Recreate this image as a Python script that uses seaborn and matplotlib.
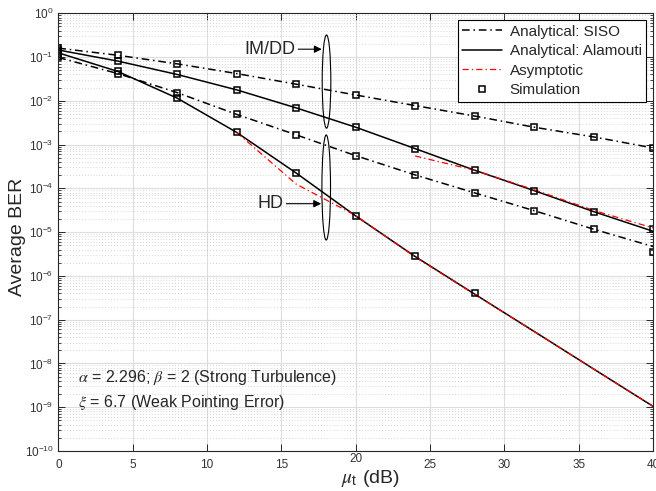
import matplotlib
matplotlib.use("Agg")
import matplotlib.pyplot as plt
import matplotlib.patches as mpatches
from matplotlib.lines import Line2D
from matplotlib.ticker import LogLocator, NullFormatter, FixedLocator
from matplotlib.transforms import ScaledTranslation
import numpy as np
import seaborn as sns

# ─── Data ──────────────────────────────────────────────────────────────────
snr_db = [0, 4, 8, 12, 16, 20, 24, 28, 32, 36, 40]

imdd_siso = [0.16, 0.11, 0.07, 0.042, 0.024, 0.0136, 0.0078, 0.0045, 0.0025, 0.0015, 0.00084]
imdd_alam = [0.145, 0.081, 0.04, 0.0178, 0.0069, 0.0025, 8.1e-4, 2.6e-4, 8.9e-5, 2.95e-5, 1.05e-5]
hd_siso = [0.098, 0.042, 0.0154, 0.0049, 0.00167, 5.6e-4, 2.03e-4, 7.9e-5, 3.1e-5, 1.17e-5, 4.7e-6]
hd_alam = [0.125, 0.047, 0.0115, 0.0019, 2.24e-4, 2.35e-5, 2.78e-6, 3.85e-7, 5.4e-8, 7.5e-9, 1.05e-9]

asym_imdd_x = [24, 28, 32, 36, 40]
asym_imdd = [5.5e-4, 2.6e-4, 9.3e-5, 3.15e-5, 1.25e-5]
asym_hd_x = [12, 16, 20, 24, 28, 32, 36, 40]
asym_hd = [1.9e-3, 1.25e-4, 2.4e-5, 2.7e-6, 3.8e-7, 5.4e-8, 7.5e-9, 1.05e-9]

sim_x = [0, 4, 8, 12, 16, 20, 24, 28, 32, 36, 40]
sim_imdd_siso = [0.16, 0.11, 0.07, 0.042, 0.024, 0.0136, 0.0078, 0.0045, 0.0025, 0.0015, 0.00084]
sim_imdd_alam = [0.145, 0.081, 0.04, 0.0178, 0.0069, 0.0025, 8.1e-4, 2.6e-4, 8.9e-5, 2.95e-5, 1.17e-5]
sim_hd_siso = [0.098, 0.042, 0.0154, 0.0049, 0.00167, 5.6e-4, 2.03e-4, 7.9e-5, 3.1e-5, 1.17e-5, 3.6e-6]
sim_hd_alam_x = [0, 4, 8, 12, 16, 20, 24, 28]
sim_hd_alam = [0.125, 0.047, 0.0115, 0.0019, 2.24e-4, 2.35e-5, 2.78e-6, 4.0e-7]

# ─── Style ────────────────────────────────────────────────────────────────
sns.set_style("ticks")
plt.rcParams["font.family"] = ["Liberation Sans", "DejaVu Sans"]
plt.rcParams["mathtext.fontset"] = "stix"

DASHDOT = (0, (5, 2.5, 1, 2.5))
AX_COLOR = "#262626"
TXT_COLOR = "#333333"

fig = plt.figure(figsize=(6.56, 4.91), dpi=100)
ax = fig.add_axes([0.0889, 0.0815, 0.9065, 0.8914])
ax.set_yscale("log")

# analytical curves
sns.lineplot(x=snr_db, y=imdd_siso, ax=ax, color="k", linestyle=DASHDOT, linewidth=1.1)
sns.lineplot(x=snr_db, y=imdd_alam, ax=ax, color="k", linestyle="-", linewidth=1.1)
sns.lineplot(x=snr_db, y=hd_siso, ax=ax, color="k", linestyle=DASHDOT, linewidth=1.1)
sns.lineplot(x=snr_db, y=hd_alam, ax=ax, color="k", linestyle="-", linewidth=1.1)

# asymptotic curves
sns.lineplot(x=asym_imdd_x, y=asym_imdd, ax=ax, color="red", linestyle=DASHDOT, linewidth=0.9)
sns.lineplot(x=asym_hd_x, y=asym_hd, ax=ax, color="red", linestyle=DASHDOT, linewidth=0.9)

# simulation markers
mk = dict(marker="s", linestyle="none", markersize=5, mfc="none", mec="k", mew=1.1)
ax.plot(sim_x, sim_imdd_siso, **mk)
ax.plot(sim_x, sim_imdd_alam, **mk)
ax.plot(sim_x, sim_hd_siso, **mk)
ax.plot(sim_hd_alam_x, sim_hd_alam, **mk)

# axes
ax.set_xlim(0, 40)
ax.set_ylim(1e-10, 1)
ax.xaxis.set_major_locator(FixedLocator([0, 5, 10, 15, 20, 25, 30, 35, 40]))
ax.yaxis.set_major_locator(LogLocator(base=10, numticks=15))
ax.yaxis.set_minor_locator(LogLocator(base=10, subs=np.arange(2, 10), numticks=15))
ax.yaxis.set_minor_formatter(NullFormatter())

ax.grid(True, which="major", color="#dddddd", linewidth=0.8, linestyle="-")
ax.grid(True, which="minor", axis="y", color="#c8c8c8", linewidth=0.6, linestyle=(0, (1, 2.5)))
ax.set_axisbelow(True)

ax.tick_params(which="both", direction="in", top=True, right=True,
               colors=AX_COLOR, labelsize=8.5, labelcolor=TXT_COLOR)
ax.tick_params(axis="x", which="major", pad=6)
ax.tick_params(which="major", length=5, width=0.7)
ax.tick_params(which="minor", length=2.5, width=0.6)
for s in ax.spines.values():
    s.set_color(AX_COLOR)
    s.set_linewidth(0.8)

ax.set_ylabel("Average BER", fontsize=14, color=AX_COLOR)
ax.yaxis.set_label_coords(-0.055, 0.49)
ax.set_xlabel(r"$\mu_\mathdefault{t}$ (dB)", fontsize=14, color=AX_COLOR)
ax.xaxis.set_label_coords(0.524, -0.038)

# the "20" label sits higher in the reference
lbl = ax.get_xticklabels()[4]
lbl.set_transform(lbl.get_transform() + ScaledTranslation(0, 6 / 100, fig.dpi_scale_trans))

# legend
handles = [
    Line2D([], [], color="k", linestyle=DASHDOT, linewidth=1.1),
    Line2D([], [], color="k", linestyle="-", linewidth=1.1),
    Line2D([], [], color="red", linestyle=DASHDOT, linewidth=0.9),
    Line2D([], [], **mk),
]
labels = ["Analytical: SISO", "Analytical: Alamouti", "Asymptotic", "Simulation"]
leg = ax.legend(handles, labels, loc="upper right", fontsize=11, frameon=True,
                fancybox=False, framealpha=1, edgecolor="k", borderpad=0.3,
                labelspacing=0.36, handlelength=2.6, handletextpad=0.5,
                borderaxespad=0.45)
leg.get_frame().set_linewidth(0.8)
for t in leg.get_texts():
    t.set_color(AX_COLOR)

# ellipses and labels
ax.add_patch(mpatches.Ellipse((0.451, 0.844), 0.0145, 0.213, transform=ax.transAxes,
                              fill=False, edgecolor="k", linewidth=0.8))
ax.add_patch(mpatches.Ellipse((0.4505, 0.602), 0.0145, 0.240, transform=ax.transAxes,
                              fill=False, edgecolor="k", linewidth=0.8))
arrow = dict(arrowstyle="-|>", color="k", lw=0.8, mutation_scale=11, shrinkA=0, shrinkB=0)
ax.annotate("IM/DD", xy=(0.443, 0.918), xytext=(0.398, 0.918), xycoords="axes fraction",
            textcoords="axes fraction", ha="right", va="center", fontsize=13,
            color=AX_COLOR, arrowprops=arrow)
ax.annotate("HD", xy=(0.442, 0.565), xytext=(0.378, 0.565), xycoords="axes fraction",
            textcoords="axes fraction", ha="right", va="center", fontsize=13,
            color=AX_COLOR, arrowprops=arrow)

ax.text(0.033, 0.167, r"$\alpha$ = 2.296; $\beta$ = 2 (Strong Turbulence)",
        transform=ax.transAxes, fontsize=11.5, color=AX_COLOR, va="center")
ax.text(0.033, 0.111, r"$\xi$ = 6.7 (Weak Pointing Error)",
        transform=ax.transAxes, fontsize=11.5, color=AX_COLOR, va="center")

fig.savefig("out.png", dpi=100)
plt.close(fig)
